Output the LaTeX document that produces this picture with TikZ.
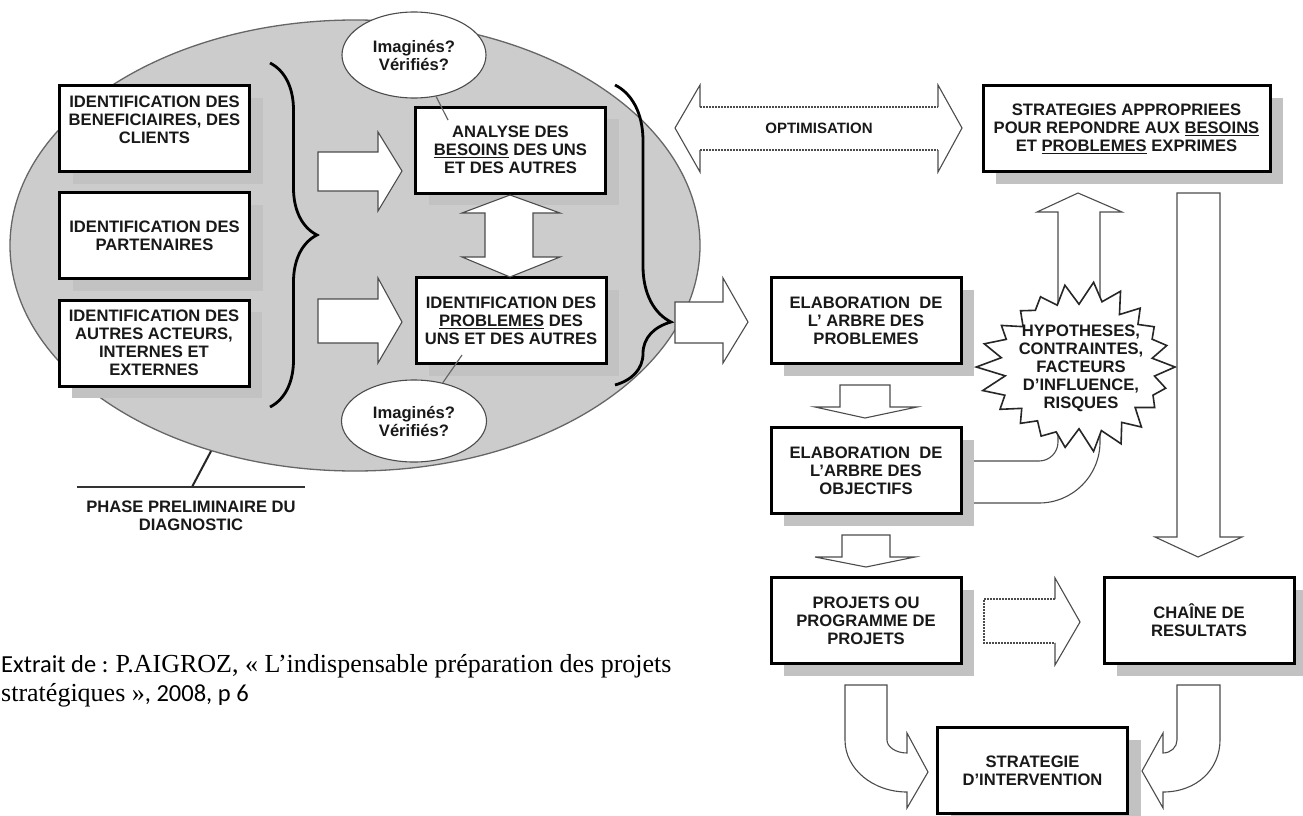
\documentclass[tikz,border=0pt]{standalone}
\usepackage{fontspec}
\setmainfont{Liberation Sans}
\newfontfamily\capsans{Carlito}
\newfontfamily\capserif{Liberation Serif}
\usetikzlibrary{shapes.geometric,shadows,decorations.pathreplacing}

\definecolor{ellgray}{gray}{0.80}
\definecolor{shadegray}{gray}{0.76}
\definecolor{rimgray}{gray}{0.40}
\definecolor{arrowrim}{gray}{0.30}
\definecolor{inkgray}{gray}{0.10}

\newcommand\dgfont{\fontsize{16.6}{18}\selectfont\bfseries}
\newcommand\optfont{\fontsize{15}{17}\selectfont\bfseries}
\newcommand\sanscap{\capsans\fontsize{24.5}{29}\selectfont}
\newcommand\serifcap{\capserif\fontsize{26}{29}\selectfont}

\tikzset{
  stepbox/.style={draw=black, line width=3pt, fill=white,
    minimum width=190pt, minimum height=86pt, inner sep=0pt,
    align=center, font=\dgfont, text=inkgray,
    drop shadow={shadow xshift=13pt, shadow yshift=-12pt, opacity=1, fill=shadegray}},
  bubble/.style={ellipse, draw=arrowrim, line width=1.1pt, fill=white,
    inner sep=0pt, align=center, font=\dgfont, text=inkgray},
  blockarrow/.style={draw=arrowrim, line width=1.1pt, fill=white, line join=miter},
  rimline/.style={draw=arrowrim, line width=1.1pt, line join=miter},
  dashrim/.style={draw=arrowrim, line width=1.1pt, dash pattern=on 2pt off 1pt},
  bracket/.style={draw=black, line width=2.8pt, decorate},
  pointer/.style={draw=rimgray, line width=1.2pt},
  burst/.style={draw=black!85, line width=1.6pt, fill=white, line join=miter},
  label/.style={inner sep=0pt, align=center, font=\dgfont, text=inkgray},
}

\begin{document}
\begin{tikzpicture}[x=1pt, y=-1pt,
  declare function={rr(\k)=(mod(\k,2)==0)*(1.0+0.07*sin(\k*151))+(mod(\k,2)==1)*(0.81+0.04*cos(\k*113));}]

% page frame
\fill[white] (0,0) rectangle (1303,816);
\useasboundingbox (0,0) rectangle (1303,816);

% ---------- preliminary phase (grey ellipse) ----------
\node[ellipse, draw=rimgray, line width=1.3pt, fill=ellgray, minimum width=690pt,
      minimum height=451pt, inner sep=0pt] (phase) at (355,245.5) {};

\node[stepbox] (benef) at (154.5,128.5) {IDENTIFICATION DES\\BENEFICIAIRES, DES\\CLIENTS\\\mbox{}};
\node[stepbox] (part) at (154.5,235.5) {IDENTIFICATION DES\\PARTENAIRES};
\node[stepbox] (autres) at (154,343) {IDENTIFICATION DES\\AUTRES ACTEURS,\\INTERNES ET\\EXTERNES};

\node[stepbox] (besoins) at (510.5,150) {ANALYSE DES\\\underline{BESOINS} DES UNS\\ET DES AUTRES};
\node[stepbox] (probl) at (511,320.5) {IDENTIFICATION DES\\\underline{PROBLEMES} DES\\UNS ET DES AUTRES};

% braces
\coordinate (lbtop) at (270,63);
\coordinate (lbbot) at (270,407);
\draw[bracket, decoration={brace, amplitude=47pt}] (lbtop) -- (lbbot);
\coordinate (rbtop) at (615,85);
\coordinate (rbbot) at (615,385);
\draw[bracket, decoration={brace, amplitude=56pt, aspect=0.79}] (rbtop) -- (rbbot);

% block arrows inside the ellipse
\draw[blockarrow] (318,152) -- (378,152) -- (378,132) -- (402,171) -- (378,211) -- (378,191) -- (318,191) -- cycle;
\draw[blockarrow] (318,299) -- (378,299) -- (378,278) -- (402,322) -- (378,363) -- (378,343) -- (318,343) -- cycle;
\draw[blockarrow] (510,195) -- (560,213) -- (533,213) -- (533,257) -- (560,257) -- (510,277)
  -- (462,257) -- (485,257) -- (485,213) -- (462,213) -- cycle;
\draw[blockarrow] (675,302) -- (723,302) -- (723,278) -- (748,322) -- (723,363) -- (723,343) -- (675,343) -- cycle;

% question bubbles
\node[bubble, minimum width=144pt, minimum height=86pt] (imgA) at (414,55) {Imaginés?\\Vérifiés?};
\node[bubble, minimum width=145pt, minimum height=82pt] (imgB) at (414,421) {Imaginés?\\Vérifiés?};
\coordinate (ptrA) at (448,120);
\coordinate (ptrB) at (462,355);
\draw[pointer] (imgA.-62) -- (ptrA);
\draw[pointer] (ptrB) -- (imgB.53);

% phase caption with leader line
\coordinate (phasefoot) at (192,487);
\coordinate (ruleL) at (77,487);
\coordinate (ruleR) at (305,487);
\draw[black!85, line width=2pt] (phase.235.6) -- (phasefoot);
\draw[black!80, line width=2.6pt] (ruleL) -- (ruleR);
\node[label] (phaselbl) at (191,516) {PHASE PRELIMINAIRE DU\\DIAGNOSTIC};

% ---------- right-hand part ----------
% bent arrow from the objectives tree up to the strategies box
\draw[blockarrow] (962,461) -- (1039,461) .. controls (1049.5,461) and (1058,452.5) .. (1058,442)
  -- (1058,212) -- (1037,212) -- (1078,193) -- (1122,212) -- (1100,212) -- (1100,442)
  .. controls (1100,475.7) and (1072.7,503) .. (1039,503) -- (962,503);

% starburst of hypotheses and risks
\draw[burst] plot[samples at={0,...,43}]
  ({1079+96*rr(\x)*cos(\x*360/44)}, {367+80*rr(\x)*sin(\x*360/44)}) -- cycle;
\node[label] (risk) at (1081,368) {HYPOTHESES,\\CONTRAINTES,\\FACTEURS\\D'INFLUENCE,\\RISQUES};

% long arrow down to the results chain
\draw[blockarrow] (1177,193) -- (1220,193) -- (1220,537) -- (1242,537) -- (1198,557) -- (1155,537) -- (1177,537) -- cycle;

% optimisation double arrow
\fill[white] (675,128) -- (700,85) -- (700,107) -- (938,107) -- (938,85) -- (962,128) -- (938,172)
  -- (938,150) -- (700,150) -- (700,172) -- cycle;
\draw[rimline] (700,107) -- (700,85) -- (675,128) -- (700,172) -- (700,150);
\draw[rimline] (938,107) -- (938,85) -- (962,128) -- (938,172) -- (938,150);
\draw[dashrim] (700,107) -- (938,107);
\draw[dashrim] (700,150) -- (938,150);
\node[font=\optfont, text=inkgray, inner sep=0pt] (optim) at (819,128) {OPTIMISATION};

% boxes
\node[stepbox, minimum width=287pt] (strat) at (1126.5,128.5)
  {STRATEGIES APPROPRIEES\\POUR REPONDRE AUX \underline{BESOINS}\\ET \underline{PROBLEMES} EXPRIMES};
\node[stepbox] (arbreP) at (866,320.5) {ELABORATION\ \ DE\\L' ARBRE DES\\PROBLEMES};
\node[stepbox] (arbreO) at (866,470.5) {ELABORATION\ \ DE\\L'ARBRE DES\\OBJECTIFS};
\node[stepbox] (projets) at (866,620.5) {PROJETS OU\\PROGRAMME DE\\PROJETS};
\node[stepbox] (chaine) at (1199,620.5) {CHAÎNE DE\\RESULTATS};
\node[stepbox] (interv) at (1032.5,770.5) {STRATEGIE\\D'INTERVENTION};

% small downward arrows
\draw[blockarrow] (840,385) -- (890,385) -- (890,407) -- (917,407) -- (865,418) -- (815,407) -- (840,407) -- cycle;
\draw[blockarrow] (842,535) -- (890,535) -- (890,557) -- (915,557) -- (866,567) -- (815,557) -- (842,557) -- cycle;

% dashed arrow from projects to the results chain
\fill[white] (984,599) -- (1055,599) -- (1055,578) -- (1080,622) -- (1055,665) -- (1055,643) -- (984,643) -- cycle;
\draw[rimline] (1055,599) -- (1055,578) -- (1080,622) -- (1055,665) -- (1055,643);
\draw[dashrim] (1055,599) -- (984,599) -- (984,643) -- (1055,643);

% curved arrows into the intervention strategy
\draw[blockarrow] (845,685) -- (887,685) -- (887,740) .. controls (887,747) and (896,753) .. (907,753)
  -- (907,733) -- (928,772) -- (907,808) -- (907,792) .. controls (873,792) and (845,769) .. (845,740) -- cycle;
\draw[blockarrow] (1177,685) -- (1220,685) -- (1220,740) .. controls (1220,769) and (1197,792) .. (1163,792)
  -- (1163,808) -- (1142,771) -- (1163,733) -- (1163,753) .. controls (1171,753) and (1177,747) .. (1177,740) -- cycle;

% ---------- source note ----------
\node[anchor=base west, inner sep=0pt] (cap1) at (1,672)
  {\sanscap Extrait de : \serifcap P.AIGROZ, « L’indispensable préparation des projets};
\node[anchor=base west, inner sep=0pt] (cap2) at (1,701)
  {\serifcap stratégiques »\sanscap , 2008, p 6};
\end{tikzpicture}
\end{document}
